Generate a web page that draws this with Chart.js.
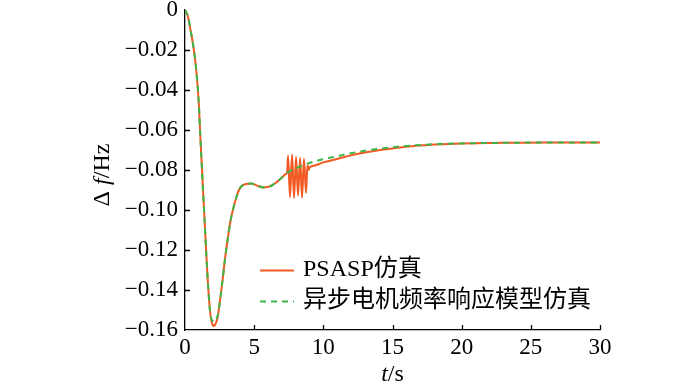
<!DOCTYPE html>
<html>
<head>
<meta charset="utf-8">
<script src="https://cdn.jsdelivr.net/npm/chart.js@4"></script>
<style>
  body { margin: 0; background: #fff; }
  #wrap { width: 700px; height: 388px; }
</style>
</head>
<body>
<div id="wrap"><canvas id="freqChart" width="700" height="388"></canvas></div>
<script>
// series labels
var seriesNames = ['PSASP仿真', '异步电机频率响应模型仿真'];

// PSASP simulation (t in s, df in Hz)
var tPsasp = [0, 0.2, 0.4, 0.6, 0.8, 1.0, 1.1, 1.2, 1.4, 1.6, 1.8, 1.9, 2.0, 2.1, 2.2, 2.35, 2.5, 2.7, 2.9, 3.1,
  3.3, 3.5, 3.7, 3.9, 4.1, 4.4, 4.8, 5.2, 5.7, 6.2, 6.6, 7.0, 7.3, 7.38, 7.45, 7.59, 7.74, 7.88, 8.03, 8.17,
  8.32, 8.46, 8.6, 8.75, 8.85, 8.94, 9.0, 9.13, 9.5, 10, 11, 12, 13, 14, 15, 16, 17, 18, 19, 20, 22, 24, 26, 28, 30];
var fPsasp = [0, -0.003, -0.010, -0.018, -0.029, -0.047, -0.062, -0.076, -0.103, -0.130, -0.150, -0.155, -0.1575, -0.158, -0.157, -0.154, -0.147, -0.136, -0.124, -0.114,
  -0.105, -0.099, -0.094, -0.090, -0.088, -0.087, -0.0868, -0.0878, -0.0887, -0.088, -0.0862, -0.0838, -0.082, -0.0815, -0.0728, -0.0935, -0.0722, -0.094, -0.0735, -0.0928,
  -0.074, -0.0938, -0.0745, -0.0915, -0.0775, -0.080, -0.0788, -0.0782, -0.0775, -0.0762, -0.0745, -0.0727, -0.0713, -0.0701, -0.0692, -0.0684, -0.0678, -0.0673, -0.067, -0.0668, -0.0665, -0.0664, -0.0663, -0.0663, -0.0663];

// induction motor frequency response model
var tModel = [0, 0.2, 0.4, 0.6, 0.8, 1.0, 1.1, 1.2, 1.4, 1.6, 1.8, 1.9, 2.0, 2.1, 2.2, 2.35, 2.5, 2.7, 2.9, 3.1,
  3.3, 3.5, 3.7, 3.9, 4.1, 4.4, 4.8, 5.2, 5.7, 6.2, 6.6, 7.0, 7.3, 8, 9, 10, 11, 12, 13, 14, 15, 16, 17, 18, 20, 22, 25, 30];
var fModel = [0, -0.003, -0.010, -0.018, -0.029, -0.047, -0.062, -0.076, -0.103, -0.130, -0.150, -0.1545, -0.1555, -0.156, -0.155, -0.153, -0.147, -0.136, -0.124, -0.114,
  -0.105, -0.099, -0.094, -0.090, -0.088, -0.087, -0.0868, -0.0878, -0.0887, -0.088, -0.0862, -0.0838, -0.0818, -0.0792, -0.0765, -0.0746, -0.0731, -0.0716, -0.0704, -0.0694, -0.0686, -0.068, -0.0675, -0.0671, -0.0667, -0.0665, -0.0663, -0.0663];

// axis ticks
var xTicks = [0, 5, 10, 15, 20, 25, 30];
var yTicks = [0, -0.02, -0.04, -0.06, -0.08, -0.10, -0.12, -0.14, -0.16];

var serif = '"Liberation Serif", "Noto Sans CJK SC", serif';
Chart.defaults.font.family = serif;
Chart.defaults.color = '#000';

function toPoints(ts, vs) {
  return ts.map(function (t, i) { return { x: t, y: vs[i] }; });
}

// inward ticks, mixed-style axis titles, legend inside the plot
var decor = {
  id: 'decor',
  afterDraw: function (chart) {
    var ctx = chart.ctx;
    var xs = chart.scales.x, ys = chart.scales.y;
    var area = chart.chartArea;
    ctx.save();
    ctx.strokeStyle = '#000';
    ctx.lineWidth = 1.3;
    ctx.beginPath();
    xTicks.forEach(function (v) {
      if (v === 0) return;
      var px = Math.round(xs.getPixelForValue(v)) + 0.5;
      ctx.moveTo(px, area.bottom);
      ctx.lineTo(px, area.bottom - 5);
    });
    yTicks.forEach(function (v) {
      if (v === 0 || v === -0.16) return;
      var py = Math.round(ys.getPixelForValue(v)) + 0.5;
      ctx.moveTo(area.left, py);
      ctx.lineTo(area.left + 5, py);
    });
    ctx.stroke();

    // x title: t/s
    ctx.fillStyle = '#000';
    ctx.textBaseline = 'middle';
    var cx = (area.left + area.right) / 2;
    ctx.font = 'italic 24px ' + serif;
    var wt = ctx.measureText('t').width;
    ctx.font = '24px ' + serif;
    var ws = ctx.measureText('/s').width;
    var x0 = cx - (wt + ws) / 2;
    ctx.font = 'italic 24px ' + serif;
    ctx.textAlign = 'left';
    ctx.fillText('t', x0, 375);
    ctx.font = '24px ' + serif;
    ctx.fillText('/s', x0 + wt, 375);

    // y title: Δ f/Hz, rotated
    ctx.save();
    ctx.translate(103, 175);
    ctx.rotate(-Math.PI / 2);
    var parts = [['Δ ', ''], ['f', 'italic '], ['/Hz', '']];
    var total = 0;
    parts.forEach(function (p) { ctx.font = p[1] + '24px ' + serif; total += ctx.measureText(p[0]).width; });
    var px0 = -total / 2;
    parts.forEach(function (p) {
      ctx.font = p[1] + '24px ' + serif;
      ctx.fillText(p[0], px0, 0);
      px0 += ctx.measureText(p[0]).width;
    });
    ctx.restore();

    // legend
    var rows = [270, 301];
    chart.data.datasets.forEach(function (ds, i) {
      var y = rows[i] + 0.5;
      ctx.save();
      ctx.strokeStyle = ds.borderColor;
      ctx.lineWidth = ds.borderWidth;
      ctx.setLineDash(ds.borderDash || []);
      ctx.beginPath();
      ctx.moveTo(260, y);
      ctx.lineTo(294, y);
      ctx.stroke();
      ctx.restore();
      ctx.font = '24px ' + serif;
      ctx.textAlign = 'left';
      ctx.fillText(ds.label, 303, rows[i]);
    });
    ctx.restore();
  }
};

var ctx = document.getElementById('freqChart').getContext('2d');
var chart = new Chart(ctx, {
  type: 'line',
  data: {
    datasets: [{
      label: seriesNames[0],
      data: toPoints(tPsasp, fPsasp),
      borderColor: '#F25A22',
      borderWidth: 2,
      pointRadius: 0,
      cubicInterpolationMode: 'monotone',
      order: 2
    }, {
      label: seriesNames[1],
      data: toPoints(tModel, fModel),
      borderColor: '#3DB54A',
      borderWidth: 2,
      borderDash: [6, 5],
      pointRadius: 0,
      cubicInterpolationMode: 'monotone',
      order: 1
    }]
  },
  options: {
    responsive: false,
    animation: false,
    layout: { padding: { top: 10, right: 100, left: 0, bottom: 0 } },
    plugins: { legend: { display: false }, tooltip: { enabled: false } },
    scales: {
      x: {
        type: 'linear',
        min: 0, max: 30,
        afterBuildTicks: function (s) { s.ticks = xTicks.map(function (v) { return { value: v }; }); },
        afterFit: function (s) { s.height = 58; s.paddingLeft = 0; s.paddingRight = 0; },
        grid: { drawOnChartArea: false, drawTicks: false },
        border: { color: '#000', width: 1.3 },
        ticks: { font: { size: 23 }, padding: 4, maxRotation: 0 }
      },
      y: {
        min: -0.16, max: 0,
        afterBuildTicks: function (s) { s.ticks = yTicks.map(function (v) { return { value: v }; }); },
        afterFit: function (s) { s.width = 185; s.paddingTop = 0; s.paddingBottom = 0; },
        grid: { drawOnChartArea: false, drawTicks: false },
        border: { color: '#000', width: 1.3 },
        ticks: {
          font: { size: 23 },
          padding: 7,
          callback: function (v) { return v === 0 ? '0' : '\u2212' + Math.abs(v).toFixed(2); }
        }
      }
    }
  },
  plugins: [decor]
});
</script>
</body>
</html>
